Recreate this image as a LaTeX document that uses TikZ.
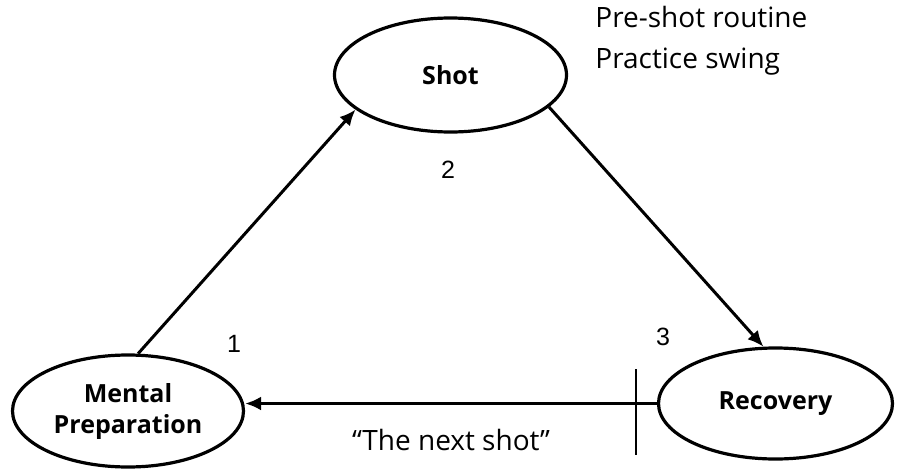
\documentclass[tikz,border=0pt]{standalone}
\usepackage{fontspec}
\setmainfont{Open Sans}
\newfontfamily\numfont{Liberation Sans}
\usetikzlibrary{shapes.geometric,arrows.meta}

\begin{document}
\begin{tikzpicture}[x=0.5pt,y=-0.5pt]
        \tikzstyle{every node}=[inner sep=1pt]
        \tikzstyle{phase}=[draw,ellipse,line width=1.6pt,inner sep=0pt,align=center,font=\fontsize{12.5}{15.5}\selectfont\bfseries]
        \tikzstyle{flow}=[-{Latex[length=8pt,width=7pt]},line width=1.5pt]
        \tikzstyle{num}=[anchor=base,font=\numfont\fontsize{12.5}{14}\selectfont]
        \tikzstyle{note}=[anchor=base west,font=\fontsize{14}{17}\selectfont]
        \useasboundingbox (0,0) rectangle (904,471);
        \node[phase,minimum width=116pt,minimum height=57pt] (shot) at (450.5,75) {Shot};
        \node[phase,minimum width=115.5pt,minimum height=56pt] (mental) at (128,411) {Mental\\Preparation};
        \node[phase,minimum width=117pt,minimum height=55.5pt] (recovery) at (775.5,403.5) {Recovery};
        \draw[flow] (mental.80) -- (shot.200);
        \draw[flow] (shot.342) -- (recovery.102);
        \draw[flow] (recovery.west) -- (recovery.west -| mental.east);
        \coordinate (cut top) at (636,369);
        \coordinate (cut bottom) at (636,455);
        \draw[line width=0.7pt] (cut top) -- (cut bottom);
        \node[num] (n1) at (234,352) {1};
        \node[num] (n2) at (448,178) {2};
        \node[num] (n3) at (663,345) {3};
        \node[note] (routine) at (593,27) {Pre-shot routine};
        \node[note] (swing) at (593,68) {Practice swing};
        \node[note,anchor=base] (next) at (451,450) {``The next shot''};
    \end{tikzpicture}
\end{document}
